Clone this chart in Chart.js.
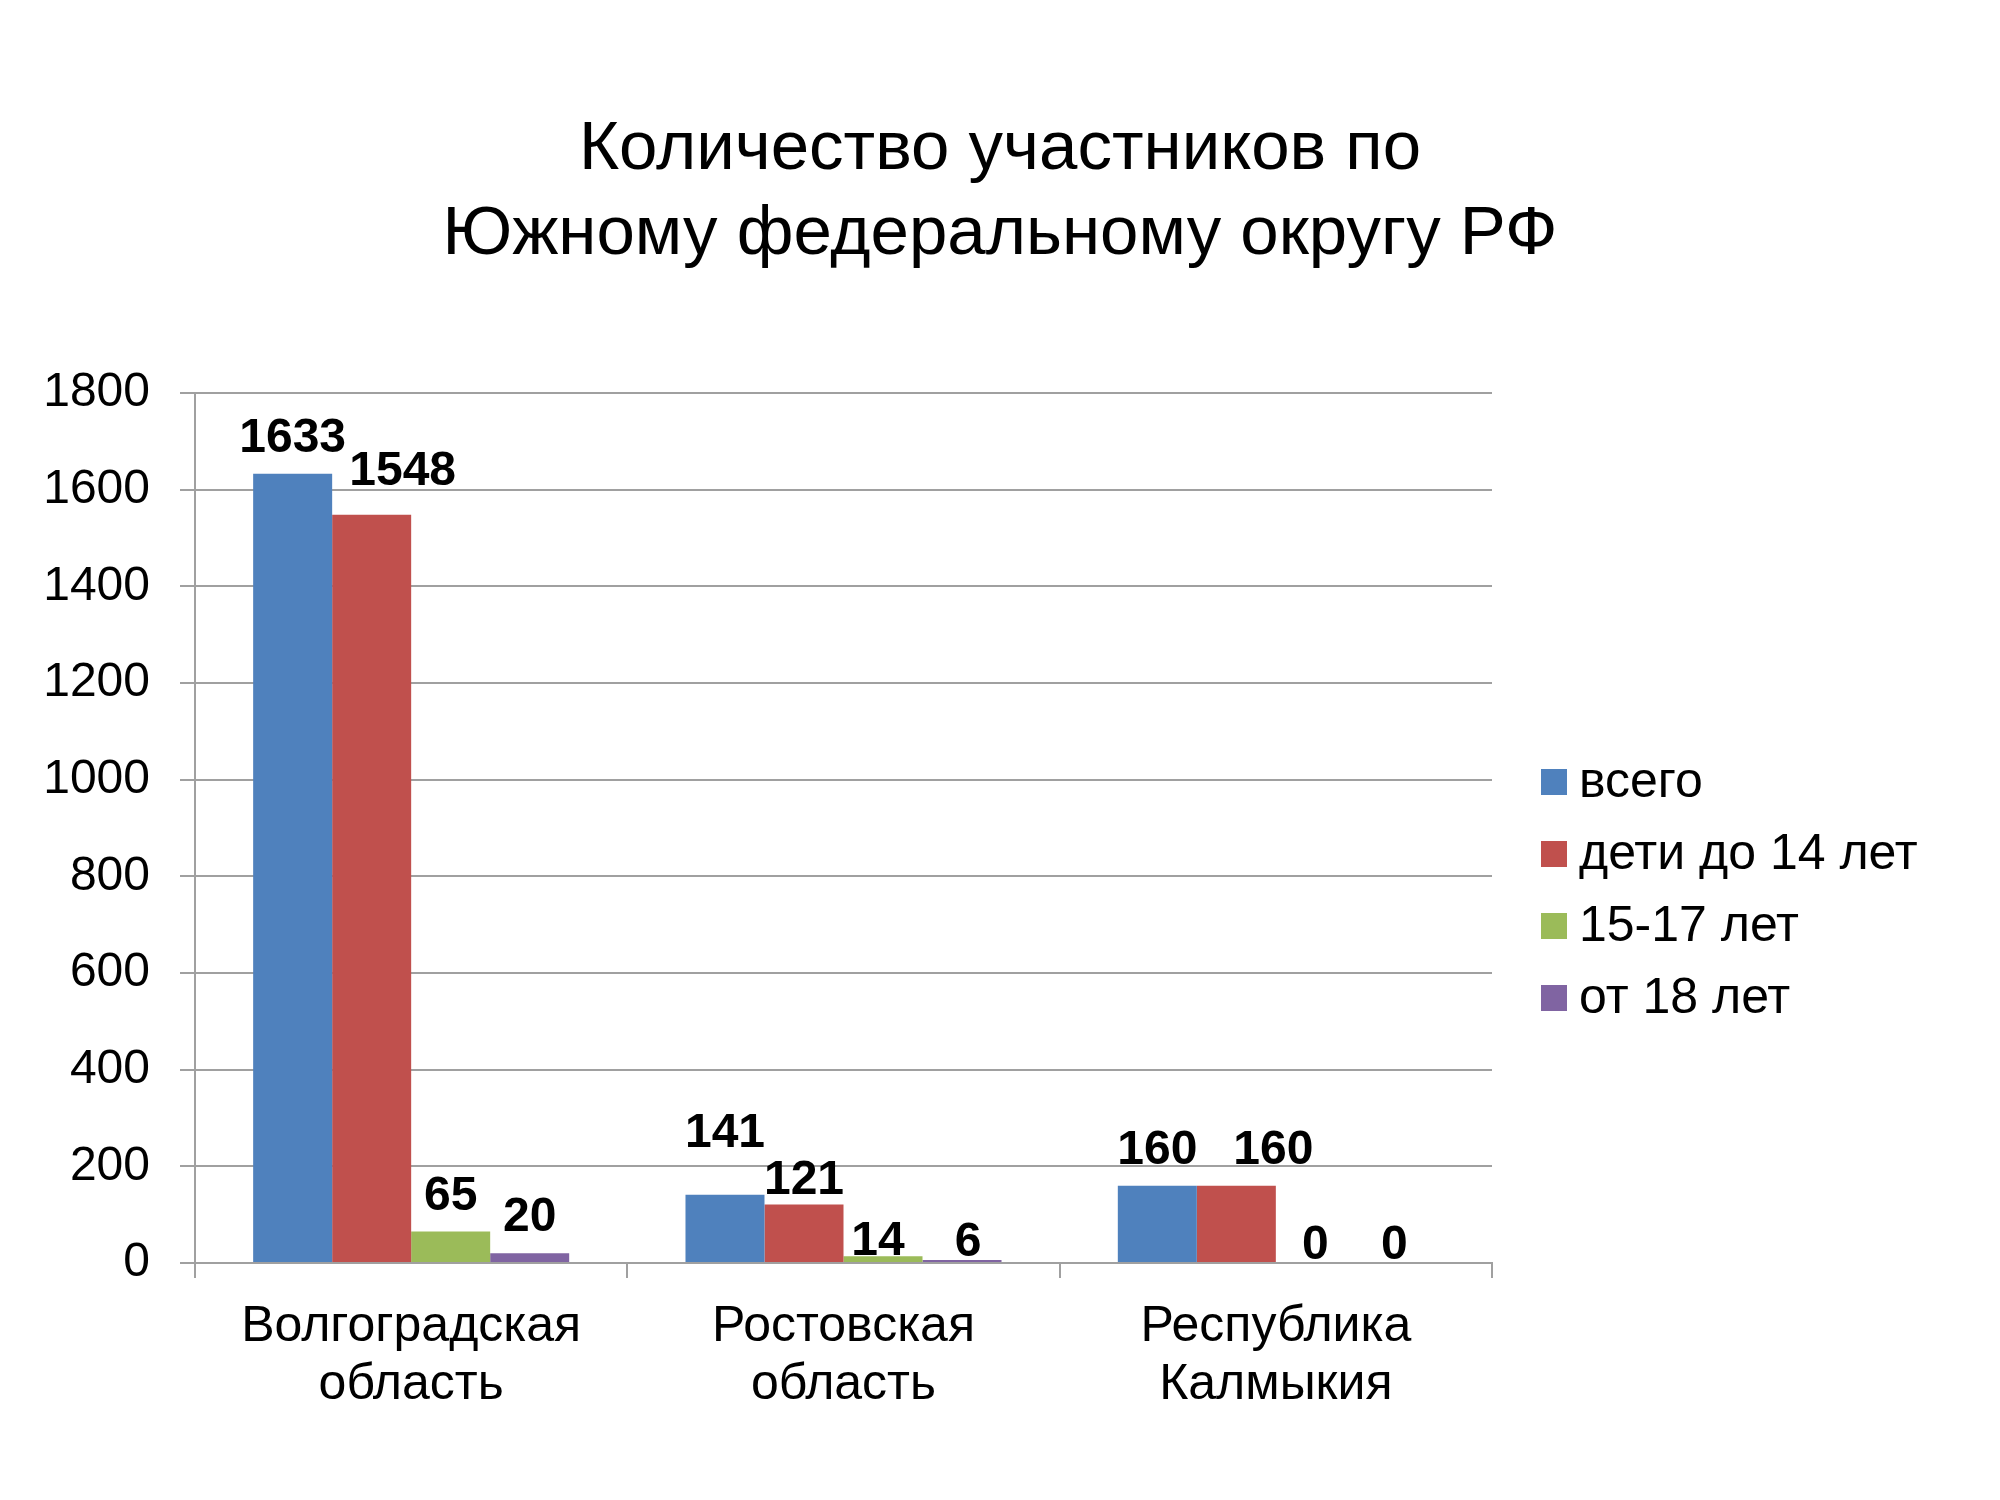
<!DOCTYPE html>
<html>
<head>
<meta charset="utf-8">
<script src="https://cdn.jsdelivr.net/npm/chart.js@4"></script>
<style>
html,body{margin:0;padding:0;background:#fff;}
#wrap{width:2000px;height:1500px;}
</style>
</head>
<body>
<div id="wrap"><canvas id="c" width="2000" height="1500"></canvas></div>
<script>
const categories = [['Волгоградская', 'область'], ['Ростовская', 'область'], ['Республика', 'Калмыкия']];
const seriesNames = ['всего', 'дети до 14 лет', '15-17 лет', 'от 18 лет'];
const totalValues = [1633, 141, 160];
const childrenValues = [1548, 121, 160];
const teenValues = [65, 14, 0];
const adultValues = [20, 6, 0];
const yTicks = [0, 200, 400, 600, 800, 1000, 1200, 1400, 1600, 1800];
const titleLines = ['Количество участников по', 'Южному федеральному округу РФ'];

const colors = ['#4F81BD', '#C0504D', '#9BBB59', '#8064A2'];
const seriesValues = [totalValues, childrenValues, teenValues, adultValues];
const FONT = "'Liberation Sans', Arial, sans-serif";
const GRID = '#a0a0a0';

// label placement tweaks (dataset-index): [dx, dy up]
const labelNudge = {
  '0-1': [0, 26], '1-0': [31, 8], '1-1': [0, -11], '2-1': [-5, -21],
  '3-1': [6, -18], '2-2': [0, -18], '3-2': [0, -18], '1-2': [37, 0]
};

const dataLabels = {
  id: 'dataLabels',
  afterDatasetsDraw(chart) {
    const ctx = chart.ctx;
    ctx.save();
    ctx.font = 'bold 48px ' + FONT;
    ctx.fillStyle = '#000';
    ctx.textAlign = 'center';
    ctx.textBaseline = 'alphabetic';
    chart.data.datasets.forEach((ds, d) => {
      const meta = chart.getDatasetMeta(d);
      meta.data.forEach((bar, i) => {
        const n = labelNudge[d + '-' + i] || [0, 0];
        ctx.fillText(String(ds.data[i]), bar.x + n[0], bar.y - 22 - n[1]);
      });
    });
    ctx.restore();
  }
};

const customLegend = {
  id: 'customLegend',
  afterDraw(chart) {
    const ctx = chart.ctx;
    const x0 = chart.chartArea.right + 49;
    const yc0 = 782;
    ctx.save();
    ctx.font = '50px ' + FONT;
    ctx.textAlign = 'left';
    ctx.textBaseline = 'middle';
    chart.data.datasets.forEach((ds, d) => {
      const yc = yc0 + d * 72;
      ctx.fillStyle = ds.backgroundColor;
      ctx.fillRect(x0, yc - 13, 26, 26);
      ctx.fillStyle = '#000';
      ctx.fillText(ds.label, x0 + 38, yc + 1);
    });
    ctx.restore();
  }
};

new Chart(document.getElementById('c'), {
  type: 'bar',
  data: {
    labels: categories,
    datasets: seriesNames.map((name, k) => ({
      label: name,
      data: seriesValues[k],
      backgroundColor: colors[k],
      borderWidth: 0,
      categoryPercentage: 0.731,
      barPercentage: 1
    }))
  },
  options: {
    responsive: false,
    animation: false,
    devicePixelRatio: 1,
    layout: { padding: 0 },
    plugins: {
      legend: { display: false },
      tooltip: { enabled: false },
      title: {
        display: true,
        text: titleLines,
        color: '#000',
        font: { family: FONT, size: 69, weight: 'normal', lineHeight: 85 / 69 },
        padding: { top: 107, bottom: 116 }
      }
    },
    scales: {
      x: {
        grid: { display: true, drawOnChartArea: false, drawTicks: true, tickLength: 15, color: GRID, lineWidth: 2 },
        border: { display: true, color: GRID, width: 2 },
        ticks: { color: '#000', font: { family: FONT, size: 50, lineHeight: 58 / 50 }, padding: 20, maxRotation: 0, autoSkip: false },
        afterFit(s) { s.height = 237; }
      },
      y: {
        min: 0, max: 1800,
        afterBuildTicks(s) { s.ticks = yTicks.map(v => ({ value: v })); },
        grid: { color: GRID, lineWidth: 2, tickLength: 15 },
        border: { display: true, color: GRID, width: 2 },
        ticks: { color: '#000', font: { family: FONT, size: 48 }, padding: 30, callback: v => String(v) },
        afterFit(s) { s.width = 195; }
      },
      yRight: {
        type: 'linear',
        position: 'right',
        display: true,
        grid: { display: false },
        border: { display: false },
        ticks: { display: false },
        afterFit(s) { s.width = 508; }
      }
    }
  },
  plugins: [dataLabels, customLegend]
});
</script>
</body>
</html>
